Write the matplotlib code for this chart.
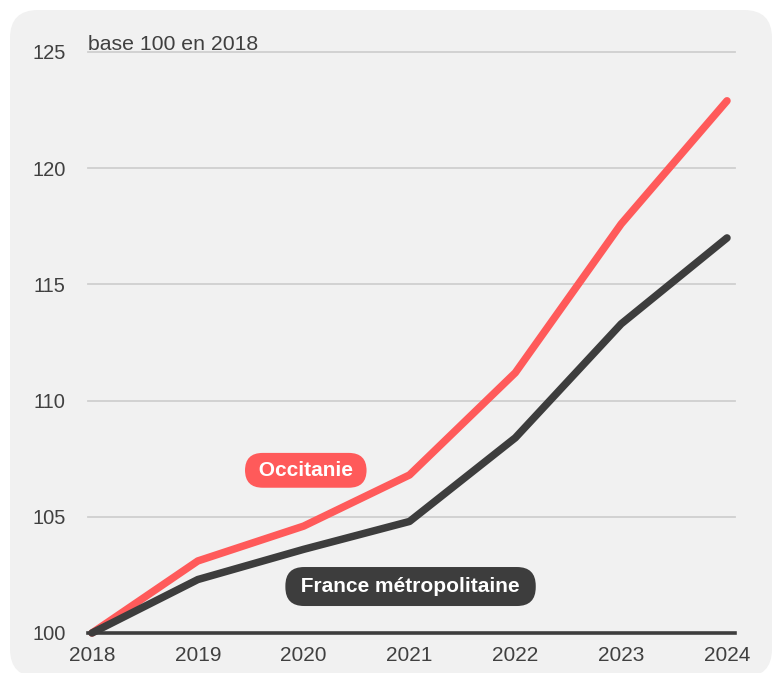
import matplotlib.pyplot as plt
from matplotlib.patches import FancyBboxPatch

years = [2018, 2019, 2020, 2021, 2022, 2023, 2024]
occitanie = [100, 103.1, 104.6, 106.8, 111.2, 117.6, 122.9]
france_metro = [100, 102.3, 103.6, 104.8, 108.4, 113.3, 117.0]
y_ticks = [100, 105, 110, 115, 120, 125]

RED = '#ff5a5a'
DARK = '#3d3d3d'
TEXT = '#404040'

plt.rcParams['font.family'] = ['Liberation Sans', 'DejaVu Sans']

W, H = 774, 673
fig = plt.figure(figsize=(W / 100, H / 100), dpi=100)
fig.patch.set_facecolor('white')

# rounded grey panel behind the chart (pixel coordinates)
panel = FancyBboxPatch((10, -4), 762, 667,
                       boxstyle='round,pad=0,rounding_size=28',
                       transform=None, facecolor='#f1f1f1',
                       edgecolor='none', zorder=-5)
fig.patches.append(panel)

# axes: 2018 at x=92px, 2024 at x=727px ; 100 at y=633px, 125 at y=52px
left_px, right_px = 88, 735
x0 = 2018 - 4 / 105.83
x1 = 2024 + 8 / 105.83
ax = fig.add_axes([left_px / W, (H - 633) / H, (right_px - left_px) / W, (633 - 52) / H])
ax.set_zorder(2)
ax.set_facecolor('none')
ax.set_xlim(x0, x1)
ax.set_ylim(100, 125)

for v in y_ticks[1:]:
    ax.axhline(v, color='#cfcfcf', lw=1.3, zorder=1, clip_on=False)
ax.axhline(100, color=DARK, lw=2.6, zorder=4, clip_on=False)

ax.plot(years, occitanie, color=RED, lw=5.4, solid_capstyle='round',
        solid_joinstyle='round', zorder=3, clip_on=False)
ax.plot(years, france_metro, color=DARK, lw=5.4, solid_capstyle='round',
        solid_joinstyle='round', zorder=3, clip_on=False)

for s in ax.spines.values():
    s.set_visible(False)
ax.set_xticks(years)
ax.set_xticklabels([str(y) for y in years])
ax.set_yticks(y_ticks)
ax.tick_params(axis='both', length=0, colors=TEXT)
ax.tick_params(axis='x', labelsize=15, pad=9.5)
ax.tick_params(axis='y', labelsize=14.5, pad=16)

ax.text(x0, 125.09, 'base 100 en 2018', fontsize=15.3,
        color=TEXT, ha='left', va='baseline')

# series labels in rounded boxes
ax.text(2020.02, 107.0, ' Occitanie ', fontsize=15, fontweight='bold',
        color='white', ha='center', va='center', zorder=5,
        bbox=dict(boxstyle='round,pad=0.38,rounding_size=0.85', fc=RED, ec='none'))
ax.text(2021.01, 102.0, ' France métropolitaine ', fontsize=15, fontweight='bold',
        color='white', ha='center', va='center', zorder=5,
        bbox=dict(boxstyle='round,pad=0.48,rounding_size=0.9', fc=DARK, ec='none'))

fig.savefig('out.png', dpi=100, facecolor=fig.get_facecolor())
